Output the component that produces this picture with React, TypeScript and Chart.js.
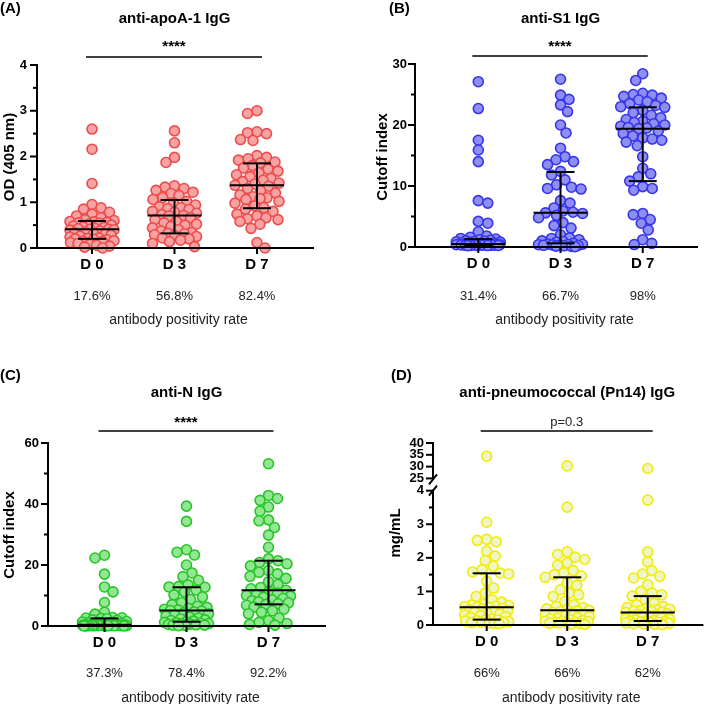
import React, { useEffect, useRef } from 'react';
import { Chart, registerables } from 'chart.js';

Chart.register(...registerables);

const FONT = "'Liberation Sans', Arial, Helvetica, sans-serif";

// ---------- shared ----------
const categories = ['D 0', 'D 3', 'D 7'];
const caption = 'antibody positivity rate';

// ---------- (A) anti-apoA-1 IgG, OD (405 nm) ----------
const apoA1D0 = [2.60, 2.16, 1.41, 0.95, 0.88, 0.85, 0.78, 0.74, 0.70, 0.66, 0.62, 0.60, 0.58, 0.57, 0.56, 0.55, 0.54, 0.52, 0.50, 0.48, 0.46, 0.45, 0.43, 0.42, 0.41, 0.41, 0.40, 0.39, 0.37, 0.35, 0.33, 0.31, 0.30, 0.28, 0.26, 0.24, 0.22, 0.21, 0.20, 0.19, 0.18, 0.16, 0.15, 0.14, 0.12, 0.10, 0.08, 0.06, 0.04, 0.02, 0.00];
const apoA1D3 = [2.56, 2.30, 1.98, 1.87, 1.36, 1.33, 1.30, 1.26, 1.22, 1.19, 1.15, 1.10, 1.06, 1.02, 0.98, 0.94, 0.90, 0.88, 0.86, 0.84, 0.80, 0.78, 0.76, 0.73, 0.71, 0.70, 0.66, 0.62, 0.58, 0.55, 0.52, 0.50, 0.47, 0.44, 0.40, 0.37, 0.34, 0.32, 0.31, 0.29, 0.27, 0.25, 0.22, 0.20, 0.17, 0.14, 0.10, 0.03];
const apoA1D7 = [3.00, 2.94, 2.54, 2.52, 2.50, 2.37, 2.35, 2.02, 1.98, 1.95, 1.92, 1.88, 1.86, 1.80, 1.75, 1.72, 1.68, 1.64, 1.60, 1.56, 1.52, 1.48, 1.45, 1.42, 1.40, 1.37, 1.35, 1.30, 1.25, 1.20, 1.16, 1.12, 1.10, 1.08, 1.06, 1.02, 0.98, 0.92, 0.88, 0.85, 0.80, 0.74, 0.70, 0.66, 0.64, 0.62, 0.58, 0.52, 0.43, 0.12, 0.00];
const apoA1Median = [0.41, 0.71, 1.37];
const apoA1Q1 = [0.20, 0.32, 0.87];
const apoA1Q3 = [0.59, 1.05, 1.85];
const apoA1Rates = ['17.6%', '56.8%', '82.4%'];
const apoA1YTicks = [0, 1, 2, 3, 4];
const apoA1YMinor = [0.5, 1.5, 2.5, 3.5];

// ---------- (B) anti-S1 IgG, Cutoff index ----------
const s1D0 = [27.1, 22.7, 17.5, 15.9, 14.0, 7.6, 7.2, 4.2, 3.9, 2.5, 1.8, 1.6, 1.4, 1.3, 1.2, 1.1, 1.0, 0.95, 0.9, 0.85, 0.8, 0.75, 0.7, 0.65, 0.6, 0.5, 0.48, 0.46, 0.45, 0.44, 0.43, 0.42, 0.41, 0.40, 0.39, 0.38, 0.37, 0.36, 0.35, 0.34, 0.33, 0.32, 0.31, 0.30, 0.29, 0.28, 0.27, 0.26, 0.25, 0.24, 0.22];
const s1D3 = [27.5, 24.9, 24.2, 23.3, 22.2, 20.0, 18.7, 16.2, 14.8, 14.3, 14.0, 13.5, 12.4, 11.8, 11.0, 10.2, 9.8, 9.6, 9.5, 7.6, 7.2, 6.4, 5.9, 5.7, 5.6, 5.5, 5.2, 4.8, 4.0, 3.5, 3.1, 2.0, 1.5, 1.4, 1.2, 1.0, 0.9, 0.8, 0.6, 0.5, 0.45, 0.4, 0.38, 0.35, 0.3, 0.28, 0.25, 0.2, 0.15, 0.1, 0.05];
const s1D7 = [28.4, 27.3, 25.2, 25.0, 24.9, 24.7, 24.4, 24.1, 23.8, 23.5, 23.2, 23.0, 22.9, 22.4, 22.0, 21.6, 21.2, 20.9, 20.6, 20.4, 20.2, 20.0, 19.8, 19.6, 19.5, 19.4, 19.0, 18.6, 18.2, 17.9, 17.7, 17.5, 17.2, 16.6, 14.8, 12.9, 12.0, 11.5, 10.8, 9.9, 9.6, 9.3, 5.5, 5.3, 4.5, 3.9, 2.8, 1.2, 0.6, 0.4];
const s1Median = [0.5, 5.6, 19.4];
const s1Q1 = [0.33, 0.6, 10.8];
const s1Q3 = [1.3, 12.3, 22.9];
const s1Rates = ['31.4%', '66.7%', '98%'];
const s1YTicks = [0, 10, 20, 30];
const s1YMinor = [5, 15, 25];

// ---------- (C) anti-N IgG, Cutoff index ----------
const nD0 = [23.2, 22.3, 17.0, 12.8, 11.2, 7.7, 4.5, 3.9, 2.8, 2.7, 2.6, 2.5, 2.4, 2.0, 1.8, 1.5, 1.3, 1.2, 1.1, 1.0, 0.9, 0.8, 0.7, 0.6, 0.5, 0.45, 0.4, 0.38, 0.35, 0.33, 0.3, 0.28, 0.26, 0.24, 0.22, 0.2, 0.18, 0.16, 0.15, 0.14, 0.13, 0.12, 0.11, 0.1, 0.09, 0.08, 0.07, 0.06, 0.05, 0.04, 0.03];
const nD3 = [39.3, 34.3, 25.0, 24.2, 23.3, 20.0, 17.4, 16.2, 15.0, 13.5, 12.9, 12.8, 12.7, 11.8, 11.2, 10.2, 9.5, 8.7, 7.6, 7.0, 6.5, 6.1, 5.8, 5.5, 5.3, 5.1, 4.9, 4.6, 4.3, 4.0, 3.6, 3.2, 2.9, 2.6, 2.3, 2.0, 1.8, 1.6, 1.4, 1.2, 1.0, 0.9, 0.8, 0.7, 0.6, 0.5, 0.4, 0.3, 0.25, 0.2, 0.1];
const nD7 = [53.2, 42.8, 41.8, 41.2, 39.0, 37.6, 34.8, 34.5, 32.3, 29.8, 25.8, 22.0, 21.4, 20.8, 20.4, 19.7, 18.2, 17.6, 17.1, 16.3, 15.6, 14.5, 13.6, 12.6, 12.2, 11.7, 11.2, 10.8, 10.3, 10.0, 9.8, 9.4, 9.0, 8.6, 8.3, 7.9, 7.6, 7.3, 7.1, 6.8, 6.2, 5.5, 5.0, 4.5, 4.0, 2.6, 1.8, 1.2, 0.8, 0.5, 0.3];
const nMedian = [0.4, 5.1, 11.7];
const nQ1 = [0.1, 1.4, 7.1];
const nQ3 = [2.5, 12.7, 21.4];
const nRates = ['37.3%', '78.4%', '92.2%'];
const nYTicks = [0, 20, 40, 60];
const nYMinor = [10, 30, 50];

// ---------- (D) anti-pneumococcal (Pn14) IgG, mg/mL (broken axis) ----------
const pnD0 = [34.4, 3.06, 2.55, 2.52, 2.48, 2.20, 2.05, 1.92, 1.75, 1.65, 1.58, 1.55, 1.52, 1.30, 1.10, 0.95, 0.85, 0.75, 0.68, 0.62, 0.60, 0.58, 0.56, 0.55, 0.54, 0.52, 0.50, 0.48, 0.45, 0.42, 0.40, 0.38, 0.35, 0.32, 0.30, 0.28, 0.25, 0.22, 0.18, 0.16, 0.15, 0.13, 0.12, 0.10, 0.09, 0.08, 0.07, 0.06, 0.05, 0.04];
const pnD3 = [30.3, 3.51, 2.18, 2.10, 2.02, 1.95, 1.85, 1.78, 1.62, 1.55, 1.50, 1.46, 1.42, 1.25, 1.18, 1.05, 0.95, 0.90, 0.85, 0.70, 0.60, 0.55, 0.52, 0.48, 0.46, 0.44, 0.42, 0.40, 0.38, 0.35, 0.32, 0.30, 0.28, 0.25, 0.22, 0.20, 0.18, 0.15, 0.13, 0.12, 0.11, 0.10, 0.09, 0.08, 0.07, 0.06, 0.05, 0.04, 0.03, 0.02];
const pnD7 = [29.2, 3.72, 2.18, 1.88, 1.62, 1.52, 1.45, 1.40, 1.20, 1.00, 0.95, 0.90, 0.86, 0.75, 0.65, 0.60, 0.55, 0.52, 0.50, 0.47, 0.45, 0.43, 0.41, 0.40, 0.38, 0.37, 0.35, 0.33, 0.31, 0.29, 0.27, 0.25, 0.23, 0.21, 0.19, 0.17, 0.15, 0.13, 0.12, 0.11, 0.10, 0.09, 0.08, 0.07, 0.06, 0.05, 0.04, 0.03, 0.02, 0.01];
const pnMedian = [0.53, 0.44, 0.37];
const pnQ1 = [0.16, 0.12, 0.12];
const pnQ3 = [1.54, 1.42, 0.86];
const pnRates = ['66%', '66%', '62%'];
const pnLowerTicks = [0, 1, 2, 3, 4];
const pnUpperTicks = [25, 30, 35, 40];
const pnYMinor = [0.5, 1.5, 2.5, 3.5];
const pnBreakLow = 4;
const pnBreakHigh = 25;
const pnGap = 0.365;
const pnUpperScale = 0.0703;
const pnTransform = (v: number) => (v <= pnBreakLow ? v : pnBreakLow + pnGap + (v - pnBreakHigh) * pnUpperScale);

// ---------- panel layout ----------
type Panel = any;

const identity = (v: number) => v;

const panels: Panel[] = [
  {
    key: 'A', letter: '(A)', title: 'anti-apoA-1 IgG', sig: '****', yTitle: 'OD (405 nm)',
    groups: [apoA1D0, apoA1D3, apoA1D7], median: apoA1Median, q1: apoA1Q1, q3: apoA1Q3, rates: apoA1Rates,
    yTicks: apoA1YTicks.map((v) => ({ value: v, label: String(v) })), yMinor: apoA1YMinor,
    yMin: 0, yMax: 4, tf: identity,
    fill: '#F7A3A3', stroke: '#EE4B4B',
    box: { left: 0, top: 0, w: 354, h: 330 }, yAxisW: 37, plotTop: 65, padRight: 41, xAxisH: 82,
    xMin: -0.667, xMax: 2.679, tickPad: 10,
    letterPos: [0, 9], titleY: 19, sigY: 47, sigBold: true, sigLineY: 57, yTitlePos: [10, 157], rateY: 296, captionY: 320,
  },
  {
    key: 'B', letter: '(B)', title: 'anti-S1 IgG', sig: '****', yTitle: 'Cutoff index',
    groups: [s1D0, s1D3, s1D7], median: s1Median, q1: s1Q1, q3: s1Q3, rates: s1Rates,
    yTicks: s1YTicks.map((v) => ({ value: v, label: String(v) })), yMinor: s1YMinor,
    yMin: 0, yMax: 30, tf: identity,
    fill: '#8E8EF3', stroke: '#3535EC',
    box: { left: 354, top: 0, w: 355, h: 330 }, yAxisW: 61, plotTop: 64, padRight: 12, xAxisH: 83,
    xMin: -0.77, xMax: 2.66, tickPad: 8,
    letterPos: [35, 9], titleY: 19, sigY: 47, sigBold: true, sigLineY: 56, yTitlePos: [29, 157], rateY: 296, captionY: 320,
  },
  {
    key: 'C', letter: '(C)', title: 'anti-N IgG', sig: '****', yTitle: 'Cutoff index',
    groups: [nD0, nD3, nD7], median: nMedian, q1: nQ1, q3: nQ3, rates: nRates,
    yTicks: nYTicks.map((v) => ({ value: v, label: String(v) })), yMinor: nYMinor,
    yMin: 0, yMax: 60, tf: identity,
    fill: '#93E693', stroke: '#27C627',
    box: { left: 0, top: 330, w: 354, h: 374 }, yAxisW: 48, plotTop: 113, padRight: 29, xAxisH: 78,
    xMin: -0.689, xMax: 2.689, tickPad: 9,
    letterPos: [0, 46], titleY: 63, sigY: 93, sigBold: true, sigLineY: 101, yTitlePos: [10, 205], rateY: 343, captionY: 368,
  },
  {
    key: 'D', letter: '(D)', title: 'anti-pneumococcal (Pn14) IgG', sig: 'p=0.3', yTitle: 'mg/mL',
    groups: [pnD0, pnD3, pnD7], median: pnMedian, q1: pnQ1, q3: pnQ3, rates: pnRates,
    yTicks: [...pnUpperTicks.slice().reverse(), ...pnLowerTicks.slice().reverse()].map((v) => ({ value: pnTransform(v), label: String(v) })),
    yMinor: pnYMinor, broken: true,
    yMin: 0, yMax: pnTransform(40), tf: pnTransform,
    fill: '#EEF6C6', stroke: '#F2EC08',
    box: { left: 354, top: 330, w: 355, h: 374 }, yAxisW: 79, plotTop: 113, padRight: 0, xAxisH: 79,
    xMin: -0.667, xMax: 2.679, tickPad: 9,
    letterPos: [37, 46], titleY: 63, sigY: 92, sigBold: false, sigLineY: 101, yTitlePos: [42, 203], rateY: 343, captionY: 368,
  },
];

// deterministic beeswarm layout in pixel space
function swarmOffsets(pixYs: number[], maxOff: number, minDist: number): number[] {
  const placed: { x: number; y: number }[] = [];
  const out: number[] = [];
  pixYs.forEach((y, idx) => {
    const sign = idx % 2 === 0 ? 1 : -1;
    const cands: number[] = [0];
    for (let d = 0.5; d <= maxOff + 1e-6; d += 0.5) cands.push(sign * d, -sign * d);
    let chosen: number | null = null;
    let best = 0;
    let bestScore = -1;
    for (const c of cands) {
      let m = Infinity;
      for (const p of placed) {
        const dy = p.y - y;
        if (Math.abs(dy) >= minDist) continue;
        const dd = Math.hypot(p.x - c, dy);
        if (dd < m) m = dd;
      }
      if (m >= minDist) { chosen = c; break; }
      if (m > bestScore + 0.05) { bestScore = m; best = c; }
    }
    const x = chosen === null ? best : chosen;
    placed.push({ x, y });
    out.push(x);
  });
  return out;
}

function line(ctx: CanvasRenderingContext2D, x1: number, y1: number, x2: number, y2: number) {
  ctx.beginPath();
  ctx.moveTo(x1, y1);
  ctx.lineTo(x2, y2);
  ctx.stroke();
}

function makeDecoPlugin(p: Panel) {
  return {
    id: 'deco' + p.key,
    afterDatasetsDraw(chart: any) {
      const ctx: CanvasRenderingContext2D = chart.ctx;
      const xs = chart.scales.x;
      const ys = chart.scales.y;
      const ca = chart.chartArea;
      const tf = p.tf;
      ctx.save();
      ctx.strokeStyle = '#000';
      ctx.lineWidth = 2;
      ctx.lineCap = 'butt';
      // median with interquartile range
      p.median.forEach((m: number, i: number) => {
        const cx = xs.getPixelForValue(i);
        const ym = ys.getPixelForValue(tf(m));
        const y1 = ys.getPixelForValue(tf(p.q1[i]));
        const y3 = ys.getPixelForValue(tf(p.q3[i]));
        line(ctx, cx, y1, cx, y3);
        line(ctx, cx - 14, y1, cx + 14, y1);
        line(ctx, cx - 14, y3, cx + 14, y3);
        line(ctx, cx - 27, ym, cx + 27, ym);
      });
      // axes
      const ax = ca.left;
      ctx.lineCap = 'square';
      line(ctx, ax, ca.bottom, ca.right, ca.bottom);
      if (p.broken) {
        const y4 = ys.getPixelForValue(tf(pnBreakLow));
        const y25 = ys.getPixelForValue(tf(pnBreakHigh));
        const yTop = ys.getPixelForValue(tf(40));
        line(ctx, ax, ca.bottom, ax, y4);
        line(ctx, ax, y25, ax, yTop);
        ctx.lineCap = 'butt';
        line(ctx, ax - 4, y25 + 6, ax + 4, y25 - 4);
        line(ctx, ax - 4, y4 + 5, ax + 4, y4 - 5);
      } else {
        line(ctx, ax, ca.bottom, ax, ca.top);
      }
      ctx.lineCap = 'butt';
      // y tick marks
      p.yTicks.forEach((t: any) => {
        const y = ys.getPixelForValue(t.value);
        line(ctx, ax - 7, y, ax, y);
      });
      p.yMinor.forEach((v: number) => {
        const y = ys.getPixelForValue(tf(v));
        line(ctx, ax - 4, y, ax, y);
      });
      // x tick marks
      categories.forEach((_c, i) => {
        const x = xs.getPixelForValue(i);
        line(ctx, x, ca.bottom, x, ca.bottom + 6);
      });
      ctx.restore();
    },
    afterDraw(chart: any) {
      const ctx: CanvasRenderingContext2D = chart.ctx;
      const xs = chart.scales.x;
      const x0 = xs.getPixelForValue(0);
      const x2 = xs.getPixelForValue(2);
      const mid = (x0 + x2) / 2;
      ctx.save();
      ctx.fillStyle = '#000';
      ctx.textBaseline = 'middle';
      // panel letter
      ctx.font = `bold 15px ${FONT}`;
      ctx.textAlign = 'left';
      ctx.fillText(p.letter, p.letterPos[0], p.letterPos[1]);
      // title
      ctx.textAlign = 'center';
      ctx.fillText(p.title, mid, p.titleY);
      // significance
      const sx1 = x0 - 6;
      const sx2 = x2 + 5;
      ctx.font = p.sigBold ? `bold 15px ${FONT}` : `13px ${FONT}`;
      ctx.fillStyle = p.sigBold ? '#000' : '#222';
      ctx.fillText(p.sig, (sx1 + sx2) / 2, p.sigY);
      ctx.strokeStyle = '#000';
      ctx.lineWidth = 1.5;
      line(ctx, sx1, p.sigLineY, sx2, p.sigLineY);
      // positivity rates
      ctx.fillStyle = '#222';
      ctx.font = `13px ${FONT}`;
      p.rates.forEach((r: string, i: number) => {
        ctx.fillText(r, xs.getPixelForValue(i), p.rateY);
      });
      ctx.font = `14px ${FONT}`;
      ctx.fillText(caption, mid + 4, p.captionY);
      // y title
      ctx.fillStyle = '#000';
      ctx.font = `bold 15px ${FONT}`;
      ctx.translate(p.yTitlePos[0], p.yTitlePos[1]);
      ctx.rotate(-Math.PI / 2);
      ctx.fillText(p.yTitle, 0, 0);
      ctx.restore();
    },
  };
}

function PanelChart({ p }: { p: Panel }) {
  const ref = useRef<HTMLCanvasElement>(null);
  useEffect(() => {
    const canvas = ref.current;
    if (!canvas) return;
    const tf = p.tf;
    const chart = new Chart(canvas, {
      type: 'scatter',
      data: {
        datasets: p.groups.map((g: number[], i: number) => ({
          label: categories[i],
          data: g.map((v) => ({ x: i, y: tf(v) })),
          backgroundColor: p.fill,
          borderColor: p.stroke,
          borderWidth: 1.6,
          pointRadius: 5,
          pointHoverRadius: 5,
          clip: false,
        })),
      },
      options: {
        animation: false,
        responsive: false,
        maintainAspectRatio: false,
        events: [],
        layout: { padding: { left: 0, top: p.plotTop, right: p.padRight, bottom: 0 } },
        plugins: { legend: { display: false }, tooltip: { enabled: false }, title: { display: false } },
        scales: {
          x: {
            type: 'linear',
            position: 'bottom',
            bounds: 'data',
            min: p.xMin,
            max: p.xMax,
            afterBuildTicks: (s: any) => { s.ticks = categories.map((_c, i) => ({ value: i })); },
            afterFit: (s: any) => { s.height = p.xAxisH; },
            grid: { display: false, drawTicks: false },
            border: { display: false },
            ticks: {
              autoSkip: false,
              maxRotation: 0,
              padding: 8,
              color: '#000',
              font: { family: FONT, size: 15, weight: 'bold' },
              callback: (v: any) => categories[Math.round(Number(v))] ?? '',
            },
          },
          y: {
            type: 'linear',
            position: 'left',
            bounds: 'data',
            min: p.yMin,
            max: p.yMax,
            afterBuildTicks: (s: any) => { s.ticks = p.yTicks.map((t: any) => ({ value: t.value })); },
            afterFit: (s: any) => { s.width = p.yAxisW; },
            grid: { display: false, drawTicks: false },
            border: { display: false },
            ticks: {
              autoSkip: false,
              padding: p.tickPad,
              color: '#000',
              font: { family: FONT, size: 13, weight: 'bold' },
              callback: (_v: any, idx: number) => (p.yTicks[idx] ? p.yTicks[idx].label : ''),
            },
          },
        },
      } as any,
      plugins: [makeDecoPlugin(p)],
    });

    const xs: any = chart.scales.x;
    const ys: any = chart.scales.y;
    const pxPerCat = xs.getPixelForValue(1) - xs.getPixelForValue(0);
    p.groups.forEach((g: number[], i: number) => {
      const offs = swarmOffsets(g.map((v) => ys.getPixelForValue(tf(v))), 22, 9.5);
      (chart.data.datasets[i] as any).data = g.map((v, j) => ({ x: i + offs[j] / pxPerCat, y: tf(v) }));
    });
    chart.update();

    return () => chart.destroy();
  }, [p]);

  return (
    <canvas
      ref={ref}
      width={p.box.w}
      height={p.box.h}
      style={{ position: 'absolute', left: p.box.left, top: p.box.top, width: p.box.w, height: p.box.h }}
    />
  );
}

export default function App() {
  return (
    <div style={{ position: 'absolute', left: 0, top: 0, width: 709, height: 704, background: '#fff' }}>
      {panels.map((p) => (
        <PanelChart key={p.key} p={p} />
      ))}
    </div>
  );
}
